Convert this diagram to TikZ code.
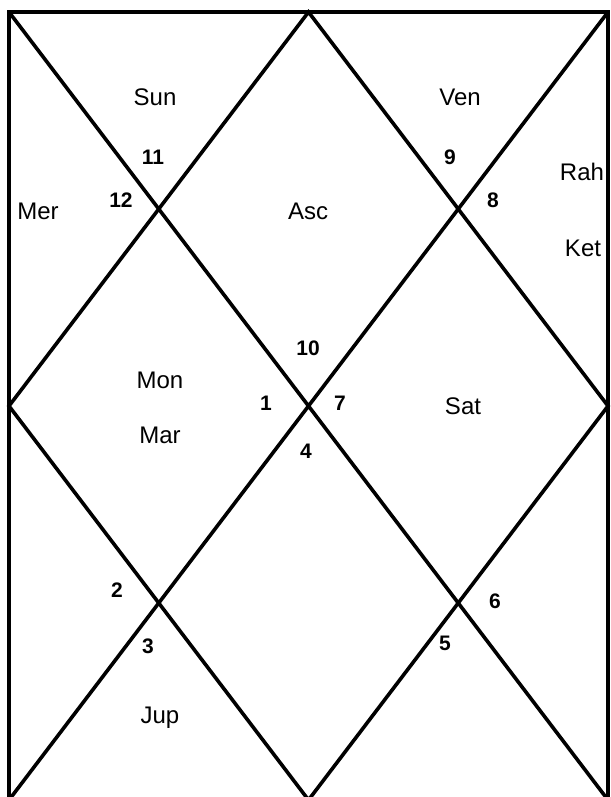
\documentclass[tikz,border=0pt]{standalone}
\usepackage{fontspec}
\setmainfont{Liberation Sans}
\begin{document}
\begin{tikzpicture}[x=1pt,y=-1pt,line width=3.6pt,
  every node/.style={font=\fontsize{24}{28}\selectfont},
  num/.style={font=\fontsize{21}{24}\selectfont\bfseries}]
  \useasboundingbox (0,0) rectangle (610,797);
  \coordinate (P) at (9,12);
  \coordinate (Q) at (608,12);
  \coordinate (R) at (608,800);
  \coordinate (S) at (9,800);
  \coordinate (T) at (308.5,12);
  \coordinate (L) at (9,406);
  \coordinate (E) at (608,406);
  \coordinate (B) at (308.5,800);
  \draw[line width=4.2pt] (P) rectangle (R);
  \draw (P)--(R) (Q)--(S);
  \draw (T)--(E)--(B)--(L)--cycle;
  % planets
  \node (sun) at (155,97) {Sun};
  \node (ven) at (460,97) {Ven};
  \node (rah) at (582,172) {Rah};
  \node (ket) at (583,248) {Ket};
  \node (mer) at (38,211) {Mer};
  \node (asc) at (308,211) {Asc};
  \node (mon) at (160,380) {Mon};
  \node (mar) at (160,435) {Mar};
  \node (sat) at (463,406) {Sat};
  \node (jup) at (160,718) {Jup};
  % houses
  \node[num] (h1) at (266,403) {1};
  \node[num] (h2) at (117,590) {2};
  \node[num] (h3) at (148,646) {3};
  \node[num] (h4) at (306,451) {4};
  \node[num] (h5) at (445,643) {5};
  \node[num] (h6) at (495,601) {6};
  \node[num] (h7) at (340,403) {7};
  \node[num] (h8) at (493,200) {8};
  \node[num] (h9) at (450,157) {9};
  \node[num] (h10) at (308,348) {10};
  \node[num] (h11) at (153,157) {11};
  \node[num] (h12) at (121,200) {12};
\end{tikzpicture}
\end{document}
